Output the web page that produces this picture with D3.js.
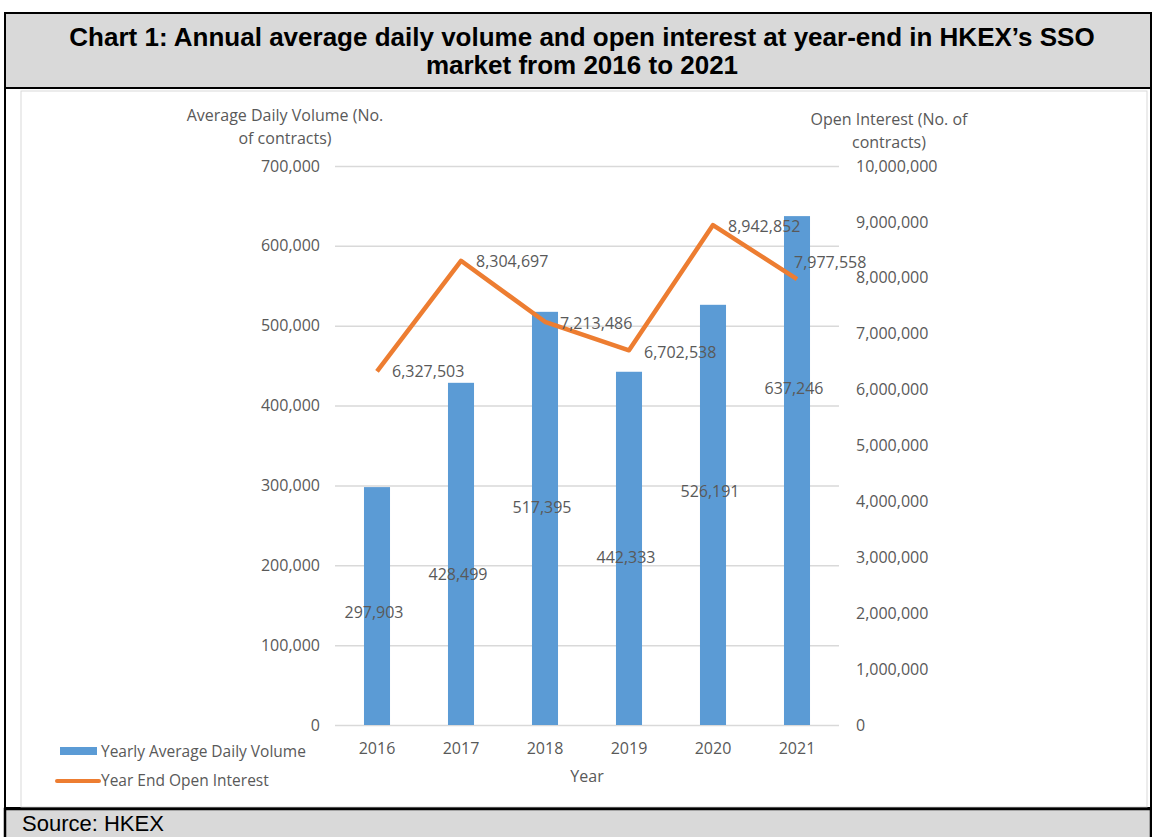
<!DOCTYPE html>
<html>
<head>
<meta charset="utf-8">
<script src="https://cdn.jsdelivr.net/npm/d3@7"></script>
<style>
	html, body { margin: 0; padding: 0; background: #fff; }
	svg { display: block; }
	.lbl { font-family: 'Open Sans', sans-serif; font-size: 16px; fill: #595959; }
</style>
</head>
<body>
<div id="app"></div>
<script>
	// data
	const years = ['2016', '2017', '2018', '2019', '2020', '2021'];
	const volume = [297903, 428499, 517395, 442333, 526191, 637246];
	const openInterest = [6327503, 8304697, 7213486, 6702538, 8942852, 7977558];
	const volTicks = [0, 100000, 200000, 300000, 400000, 500000, 600000, 700000];
	const oiTicks = [0, 1e6, 2e6, 3e6, 4e6, 5e6, 6e6, 7e6, 8e6, 9e6, 1e7];
	const titleLines = [
		'Chart 1: Annual average daily volume and open interest at year-end in HKEX\u2019s SSO',
		'market from 2016 to 2021'
	];

	const W = 1152, H = 837;
	const BLUE = '#5b9bd5', ORANGE = '#ed7d31', GRID = '#d9d9d9', BAND = '#d9d9d9';

	const svg = d3.select('#app').append('svg')
		.attr('width', W)
		.attr('height', H);

	// frame: title band, chart area, source band
	svg.append('rect')
		.attr('x', 5).attr('y', 13).attr('width', W - 6).attr('height', 75)
		.attr('fill', BAND).attr('stroke', '#000').attr('stroke-width', 2);
	svg.append('rect')
		.attr('x', 5).attr('y', 88).attr('width', W - 6).attr('height', 720)
		.attr('fill', '#fff').attr('stroke', '#000').attr('stroke-width', 2);
	svg.append('rect')
		.attr('x', 21).attr('y', 91).attr('width', 1126).attr('height', 716)
		.attr('fill', 'none').attr('stroke', GRID).attr('stroke-width', 1);
	svg.append('rect')
		.attr('x', 5).attr('y', 809).attr('width', W - 6).attr('height', 40)
		.attr('fill', BAND).attr('stroke', '#000').attr('stroke-width', 2.5);

	svg.selectAll('text.title')
		.data(titleLines)
		.enter().append('text')
			.attr('class', 'title')
			.attr('x', 582)
			.attr('y', (d, i) => 46 + i * 28)
			.attr('text-anchor', 'middle')
			.style('font-family', 'Liberation Sans, Arial, sans-serif')
			.style('font-weight', 'bold')
			.style('font-size', '26px')
			.text(d => d);

	svg.append('text')
		.attr('x', 22).attr('y', 831)
		.style('font-family', 'Liberation Sans, Arial, sans-serif')
		.style('font-size', '22px')
		.text('Source: HKEX');

	// scales
	const x = d3.scaleBand()
		.domain(years)
		.range([335, 839])
		.paddingInner(0.69)
		.paddingOuter(0.345);
	const yL = d3.scaleLinear().domain([0, 700000]).range([725, 166]);
	const yR = d3.scaleLinear().domain([0, 1e7]).range([725, 166]);
	const fmt = d3.format(',');
	const cx = d => x(d) + x.bandwidth() / 2;

	// left axis with gridlines
	const gL = svg.append('g')
		.attr('transform', 'translate(335,0)')
		.call(d3.axisLeft(yL)
			.tickValues(volTicks)
			.tickFormat(fmt)
			.tickSize(-504)
			.tickPadding(15));
	gL.select('.domain').remove();
	gL.selectAll('line').attr('stroke', GRID).attr('stroke-width', 1.5);
	gL.selectAll('text').attr('class', 'lbl').attr('font-family', null).attr('font-size', null);

	const gR = svg.append('g')
		.attr('transform', 'translate(839,0)')
		.call(d3.axisRight(yR)
			.tickValues(oiTicks)
			.tickFormat(fmt)
			.tickSize(0)
			.tickPadding(17));
	gR.select('.domain').remove();
	gR.selectAll('text').attr('class', 'lbl').attr('font-family', null).attr('font-size', null);

	const gX = svg.append('g')
		.attr('transform', 'translate(0,725)')
		.call(d3.axisBottom(x).tickSize(0).tickPadding(18));
	gX.select('.domain').remove();
	gX.selectAll('text').attr('class', 'lbl').attr('font-family', null).attr('font-size', null);

	// bars
	svg.selectAll('rect.bar')
		.data(years)
		.enter().append('rect')
			.attr('class', 'bar')
			.attr('x', d => x(d))
			.attr('width', x.bandwidth())
			.attr('y', (d, i) => yL(volume[i]))
			.attr('height', (d, i) => yL(0) - yL(volume[i]))
			.attr('fill', BLUE);

	// line
	const line = d3.line()
		.x((d, i) => cx(years[i]))
		.y(d => yR(d));
	svg.append('path')
		.datum(openInterest)
		.attr('d', line)
		.attr('fill', 'none')
		.attr('stroke', ORANGE)
		.attr('stroke-width', 4.5)
		.attr('stroke-linejoin', 'round');

	// data labels (excel placed some of them by hand)
	const volLabelDy = [6, 20, -11, 9, -23, -82];
	svg.selectAll('text.vlab')
		.data(years)
		.enter().append('text')
			.attr('class', 'lbl vlab')
			.attr('x', d => cx(d) - 3)
			.attr('y', (d, i) => (yL(volume[i]) + yL(0)) / 2 + volLabelDy[i])
			.attr('dy', '0.35em')
			.attr('text-anchor', 'middle')
			.text((d, i) => fmt(volume[i]));

	const oiLabelShift = [[15, 0], [15, 1], [15, 2], [15, 2], [15, 1], [-3, -17]];
	svg.selectAll('text.olab')
		.data(years)
		.enter().append('text')
			.attr('class', 'lbl olab')
			.attr('x', (d, i) => cx(d) + oiLabelShift[i][0])
			.attr('y', (d, i) => yR(openInterest[i]) + oiLabelShift[i][1])
			.attr('dy', '0.35em')
			.text((d, i) => fmt(openInterest[i]));

	// axis titles
	const axisTitle = (lines, xc, y0) => {
		svg.append('g').selectAll('text')
			.data(lines)
			.enter().append('text')
				.attr('class', 'lbl')
				.attr('x', xc)
				.attr('y', (d, i) => y0 + i * 23)
				.attr('dy', '0.35em')
				.attr('text-anchor', 'middle')
				.text(d => d);
	};
	axisTitle(['Average Daily Volume (No.', 'of contracts)'], 285, 115);
	axisTitle(['Open Interest (No. of', 'contracts)'], 889, 119);
	axisTitle(['Year'], 587, 776);

	// legend
	svg.append('rect')
		.attr('x', 60).attr('y', 747).attr('width', 37).attr('height', 8)
		.attr('fill', BLUE);
	svg.append('line')
		.attr('x1', 57).attr('x2', 99).attr('y1', 781).attr('y2', 781)
		.attr('stroke', ORANGE).attr('stroke-width', 4).attr('stroke-linecap', 'round');
	svg.selectAll('text.leg')
		.data(['Yearly Average Daily Volume', 'Year End Open Interest'])
		.enter().append('text')
			.attr('class', 'lbl leg')
			.attr('x', 101)
			.attr('y', (d, i) => 752 + i * 29)
			.attr('dy', '0.35em')
			.style('font-size', '15.5px')
			.text(d => d);
</script>
</body>
</html>
